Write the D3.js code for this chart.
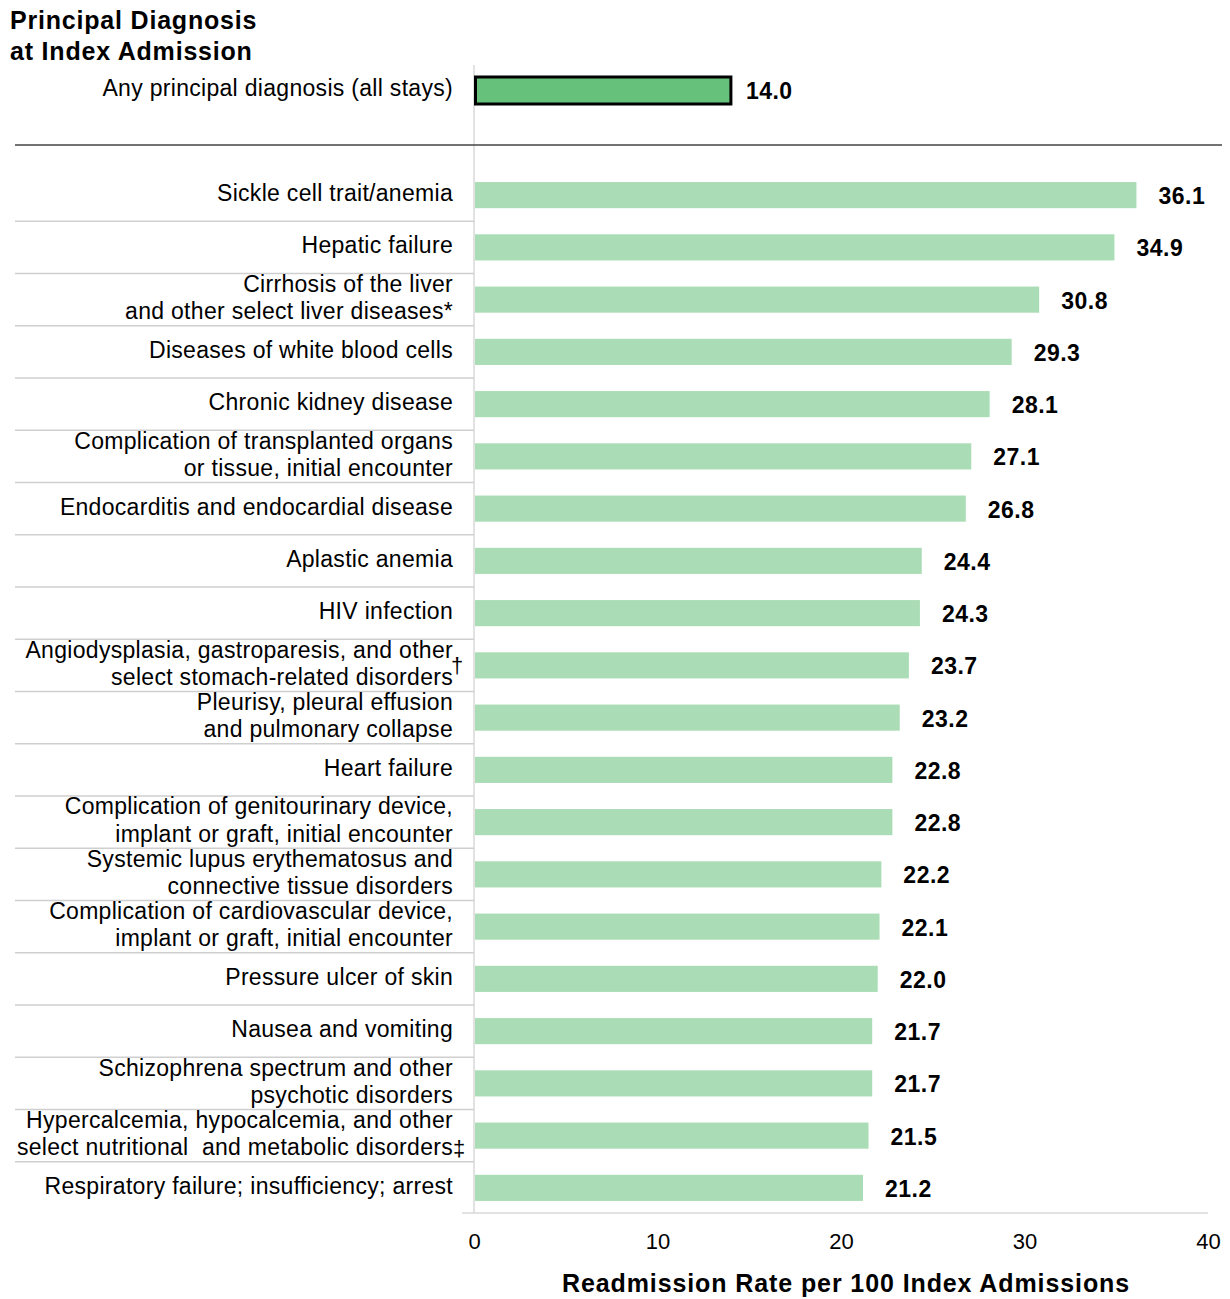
<!DOCTYPE html>
<html>
<head>
<meta charset="utf-8">
<script src="https://cdn.jsdelivr.net/npm/d3@7"></script>
<style>
  body { margin: 0; background: #fff; }
  text { font-family: "Liberation Sans", Arial, sans-serif; }
</style>
</head>
<body>
<svg id="chart" width="1230" height="1299"></svg>
<script>
// data
const categories = [
  ["Sickle cell trait/anemia"],
  ["Hepatic failure"],
  ["Cirrhosis of the liver", "and other select liver diseases*"],
  ["Diseases of white blood cells"],
  ["Chronic kidney disease"],
  ["Complication of transplanted organs", "or tissue, initial encounter"],
  ["Endocarditis and endocardial disease"],
  ["Aplastic anemia"],
  ["HIV infection"],
  ["Angiodysplasia, gastroparesis, and other", "select stomach-related disorders"],
  ["Pleurisy, pleural effusion", "and pulmonary collapse"],
  ["Heart failure"],
  ["Complication of genitourinary device,", "implant or graft, initial encounter"],
  ["Systemic lupus erythematosus and", "connective tissue disorders"],
  ["Complication of cardiovascular device,", "implant or graft, initial encounter"],
  ["Pressure ulcer of skin"],
  ["Nausea and vomiting"],
  ["Schizophrena spectrum and other", "psychotic disorders"],
  ["Hypercalcemia, hypocalcemia, and other", "select nutritional\u00a0 and metabolic disorders"],
  ["Respiratory failure; insufficiency; arrest"]
];
const rates = [36.1, 34.9, 30.8, 29.3, 28.1, 27.1, 26.8, 24.4, 24.3, 23.7,
               23.2, 22.8, 22.8, 22.2, 22.1, 22.0, 21.7, 21.7, 21.5, 21.2];
const footnotes = ["", "", "", "", "", "", "", "", "", "\u2020",
                   "", "", "", "", "", "", "", "", "\u2021", ""];
const allStaysLabel = "Any principal diagnosis (all stays)";
const allStaysRate = 14.0;
const xTicks = [0, 10, 20, 30, 40];

const svg = d3.select("#chart");
const x0 = 474;

const x = d3.scaleLinear().domain([0, 40]).range([x0, 1208]);
const y = d3.scaleBand()
  .domain(d3.range(categories.length))
  .range([169, 1214])
  .paddingInner(0.5)
  .paddingOuter(0.25);

// title
svg.append("text")
  .attr("x", 10).attr("y", 0)
  .attr("font-size", 25).attr("font-weight", "bold").attr("fill", "#000")
  .attr("letter-spacing", 0.8)
  .selectAll("tspan")
  .data(["Principal Diagnosis", "at Index Admission"])
  .enter().append("tspan")
  .attr("x", 10)
  .attr("y", (d, i) => 29 + i * 31)
  .text(d => d);

// vertical axis line
svg.append("line")
  .attr("x1", x0).attr("x2", x0)
  .attr("y1", 65).attr("y2", 1213)
  .attr("stroke", "#d9d9d9").attr("stroke-width", 1.5);

// all stays bar
svg.append("rect")
  .attr("x", x(0) + 1.5)
  .attr("y", 77)
  .attr("width", x(allStaysRate) - x(0) - 1.5)
  .attr("height", 27)
  .attr("fill", "#66c17a")
  .attr("stroke", "#000")
  .attr("stroke-width", 3);

svg.append("text")
  .attr("x", 453).attr("y", 88)
  .attr("dy", "0.35em")
  .attr("text-anchor", "end")
  .attr("font-size", 23).attr("letter-spacing", 0.3)
  .text(allStaysLabel);

svg.append("text")
  .attr("x", x(allStaysRate) + 15).attr("y", 91)
  .attr("dy", "0.35em")
  .attr("font-size", 23).attr("font-weight", "bold").attr("letter-spacing", 0.5)
  .text(allStaysRate.toFixed(1));

// divider under the all-stays row
svg.append("line")
  .attr("x1", 15).attr("x2", 1222)
  .attr("y1", 145).attr("y2", 145)
  .attr("stroke", "#444").attr("stroke-width", 1.5);

// row separators (between bands)
const step = y.step();
svg.selectAll(".sep")
  .data(d3.range(1, categories.length))
  .enter().append("line")
  .attr("class", "sep")
  .attr("x1", 15).attr("x2", x0)
  .attr("y1", d => y(d) - (step - y.bandwidth()) / 2)
  .attr("y2", d => y(d) - (step - y.bandwidth()) / 2)
  .attr("stroke", "#cfcfcf").attr("stroke-width", 1.5);

// bars
svg.selectAll(".bar")
  .data(rates)
  .enter().append("rect")
  .attr("class", "bar")
  .attr("x", x(0) + 1)
  .attr("y", (d, i) => y(i))
  .attr("width", d => x(d) - x(0) - 1)
  .attr("height", y.bandwidth())
  .attr("fill", "#aadcb5");

// value labels
svg.selectAll(".val")
  .data(rates)
  .enter().append("text")
  .attr("class", "val")
  .attr("x", d => x(d) + 22)
  .attr("y", (d, i) => y(i) + y.bandwidth() / 2 + 1)
  .attr("dy", "0.35em")
  .attr("font-size", 23).attr("font-weight", "bold").attr("letter-spacing", 0.5)
  .text(d => d.toFixed(1));

// category labels
const lineH = 27.5;
const labels = svg.selectAll(".cat")
  .data(categories)
  .enter().append("text")
  .attr("class", "cat")
  .attr("text-anchor", "end")
  .attr("font-size", 23)
  .attr("letter-spacing", 0.3)
  .attr("fill", "#000");

labels.selectAll("tspan")
  .data((d, i) => d.map((line, j) => ({ line, j, n: d.length, i })))
  .enter().append("tspan")
  .attr("x", 453)
  .attr("y", d => y(d.i) + y.bandwidth() / 2 - 2 + (d.j - (d.n - 1) / 2) * lineH)
  .attr("dy", "0.35em")
  .text(d => d.line);

// footnote marks (double dagger sits a bit lower, next to the 2nd line)
svg.selectAll(".fn")
  .data(footnotes)
  .enter().append("text")
  .attr("class", "fn")
  .attr("x", d => d === "\u2021" ? 453 : 451)
  .attr("y", (d, i) => y(i) + y.bandwidth() / 2 + (d === "\u2021" ? 20 : 8))
  .attr("font-size", 22)
  .text(d => d);

// x axis
const axis = svg.append("g")
  .attr("transform", "translate(0,1213)")
  .call(d3.axisBottom(x).tickValues(xTicks).tickSize(0).tickPadding(20));
axis.select(".domain")
  .attr("stroke", "#d9d9d9").attr("stroke-width", 1.5)
  .attr("d", "M" + (x0 - 12) + ",0H" + x(40));
axis.selectAll("text")
  .attr("font-size", 22)
  .attr("font-family", "Liberation Sans, Arial, sans-serif")
  .attr("fill", "#000");

svg.append("text")
  .attr("x", 846).attr("y", 1292)
  .attr("text-anchor", "middle")
  .attr("font-size", 25).attr("font-weight", "bold").attr("letter-spacing", 0.9)
  .text("Readmission Rate per 100 Index Admissions");
</script>
</body>
</html>
